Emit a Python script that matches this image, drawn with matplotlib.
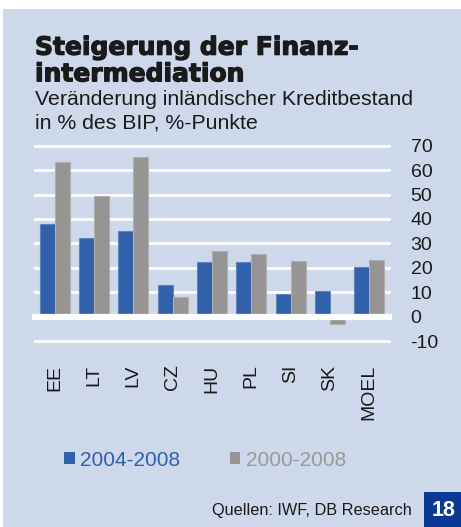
import matplotlib

matplotlib.use("Agg")
import matplotlib.pyplot as plt
import matplotlib.patheffects as pe
import numpy as np
from matplotlib.patches import Rectangle

plt.rcParams["font.family"] = ["Liberation Sans", "DejaVu Sans"]

# ---- Data ----
CATEGORIES = ["EE", "LT", "LV", "CZ", "HU", "PL", "SI", "SK", "MOEL"]
SERIES_LABELS = ["2004-2008", "2000-2008"]
VALUES_0408 = [37.8, 32.1, 35.1, 12.8, 22.5, 22.5, 9.4, 10.5, 20.3]
VALUES_0008 = [63.4, 49.4, 65.5, 8.2, 27.0, 25.7, 22.8, -3.0, 23.3]
Y_TICKS = [-10, 0, 10, 20, 30, 40, 50, 60, 70]

# ---- Palette ----
PANEL_BG = "#CDD8EA"
BLUE = "#3161AB"
GREY = "#979593"
BLUE_EDGE = "#6283BD"
GREY_EDGE = "#B0AFAD"
TEXT = "#1A1A1A"
BOX_BLUE = "#0A3895"

W, H = 461, 527


def fy(px):
    return 1 - px / H


def fx(px):
    return px / W


fig = plt.figure(figsize=(W / 100, H / 100), dpi=100, facecolor="white")

# light-blue panel behind everything
fig.patches.append(Rectangle((fx(3), 0), 1 - fx(3), fy(9), transform=fig.transFigure,
                             facecolor=PANEL_BG, edgecolor="none", zorder=-5))

ax = fig.add_axes([fx(35), fy(341), fx(389) - fx(35), fy(145.7) - fy(341)])
ax.set_facecolor("none")

x = np.arange(len(CATEGORIES))
bw = 0.38
ax.bar(x - bw / 2, VALUES_0408, width=bw, color=BLUE, edgecolor=BLUE_EDGE,
       linewidth=0.8, zorder=2, label=SERIES_LABELS[0])
ax.bar(x + bw / 2, VALUES_0008, width=bw, color=GREY, edgecolor=GREY_EDGE,
       linewidth=0.8, zorder=2, label=SERIES_LABELS[1])

for t in Y_TICKS:
    if t == 0:
        ax.axhline(t, color="white", linewidth=4.5, zorder=3, clip_on=False)
    else:
        ax.axhline(t, color="white", linewidth=2, zorder=1, clip_on=False)

ax.set_xlim(-0.5, len(CATEGORIES) - 0.5)
ax.set_ylim(-10, 70)
ax.set_yticks(Y_TICKS)
ax.set_yticklabels([str(t) for t in Y_TICKS])
ax.yaxis.tick_right()
ax.set_xticks(x)
ax.set_xticklabels(CATEGORIES, rotation=90)
ax.tick_params(axis="y", length=0, pad=15.5, labelsize=14, labelcolor=TEXT)
ax.tick_params(axis="x", length=0, pad=17, labelsize=14, labelcolor=TEXT)
for spine in ax.spines.values():
    spine.set_visible(False)

# ---- Header ----
heavy = [pe.withStroke(linewidth=0.9, foreground=TEXT)]
fig.text(fx(35), fy(54.7), "Steigerung der Finanz-", fontsize=18, fontweight="bold",
         family="DejaVu Sans", color=TEXT, va="baseline", ha="left", path_effects=heavy)
fig.text(fx(35), fy(81.3), "intermediation", fontsize=18, fontweight="bold",
         family="DejaVu Sans", color=TEXT, va="baseline", ha="left", path_effects=heavy)
fig.text(fx(35), fy(105), "Veränderung inländischer Kreditbestand", fontsize=15.3,
         color=TEXT, va="baseline", ha="left")
fig.text(fx(35), fy(128.3), "in % des BIP, %-Punkte", fontsize=15.3,
         color=TEXT, va="baseline", ha="left")

# ---- Legend ----
leg = fig.legend(loc="center", bbox_to_anchor=(fx(205), fy(460)), ncol=2,
                 frameon=False, fontsize=15, handlelength=0.5, handleheight=0.5,
                 handletextpad=0.25, columnspacing=2.4, labelcolor=[BLUE, "#9A9A9A"])
for h in leg.legend_handles:
    h.set_edgecolor("none")

# ---- Footer ----
fig.text(fx(412), fy(515), "Quellen: IWF, DB Research", fontsize=11.7, color=TEXT,
         va="baseline", ha="right")
fig.patches.append(Rectangle((fx(424), 0), 1 - fx(424), fy(492), transform=fig.transFigure,
                             facecolor=BOX_BLUE, edgecolor="none", zorder=1))
fig.text(fx(444), fy(510), "18", fontsize=15.5, fontweight="bold", color="white",
         va="center", ha="center")

fig.savefig("out.png", dpi=100)
